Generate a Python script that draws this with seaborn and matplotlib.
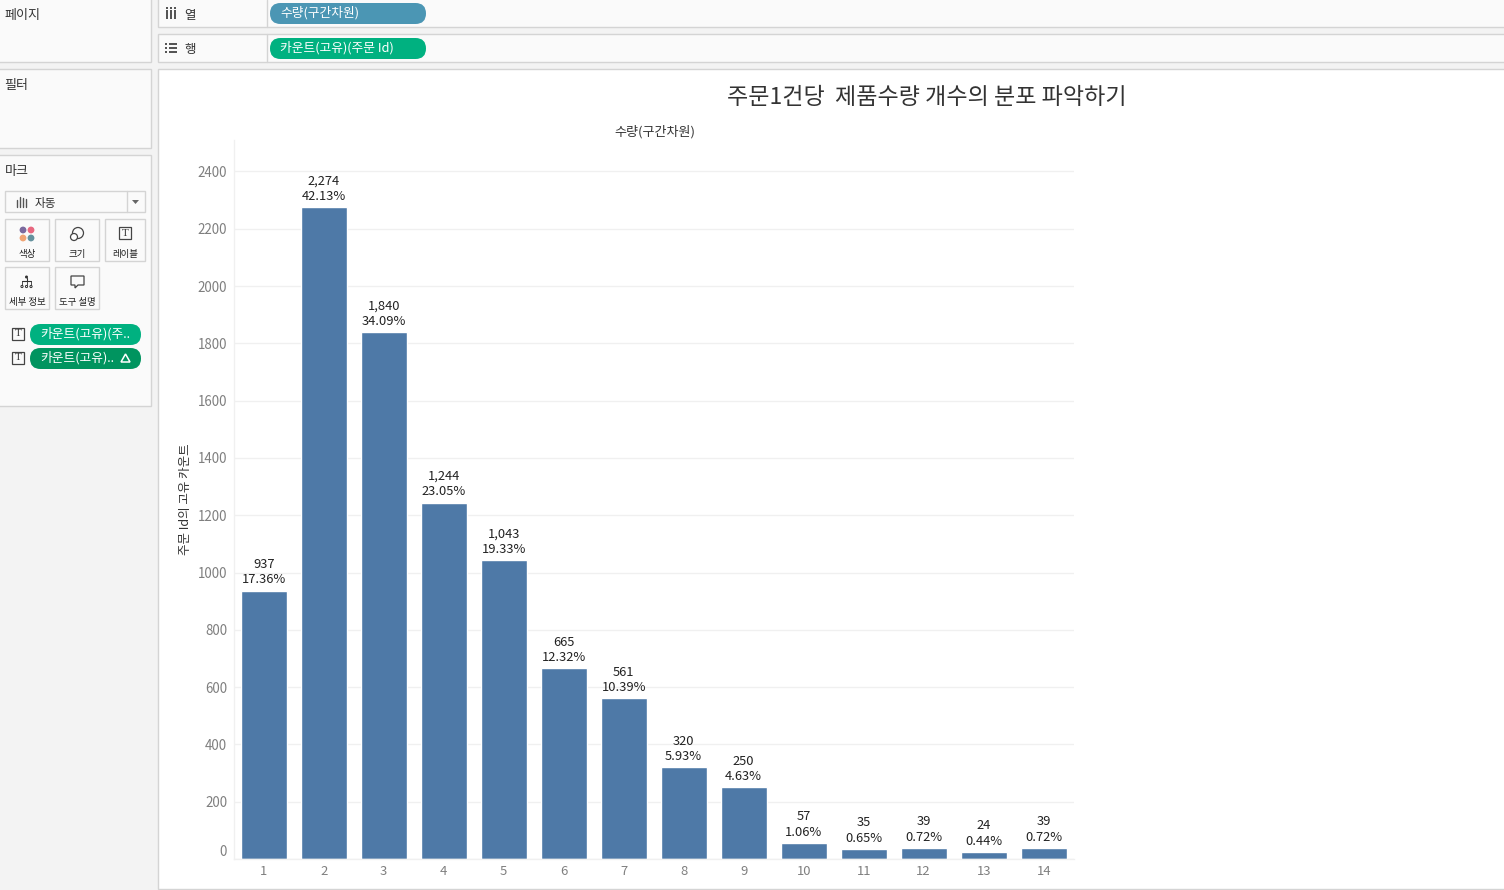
import matplotlib.pyplot as plt
import numpy as np
import pandas as pd
import seaborn as sns
from matplotlib.patches import Circle, FancyBboxPatch, Polygon, Rectangle

# chart data
bins = ['1', '2', '3', '4', '5', '6', '7', '8', '9', '10', '11', '12', '13', '14']
orders = [937, 2274, 1840, 1244, 1043, 665, 561, 320, 250, 57, 35, 39, 24, 39]
shares = ['17.36%', '42.13%', '34.09%', '23.05%', '19.33%', '12.32%', '10.39%',
          '5.93%', '4.63%', '1.06%', '0.65%', '0.72%', '0.44%', '0.72%']
y_ticks = [0, 200, 400, 600, 800, 1000, 1200, 1400, 1600, 1800, 2000, 2200, 2400]

title = '주문1건당  제품수량 개수의 분포 파악하기'
col_pill = '수량(구간차원)'
row_pill = '카운트(고유)(주문 Id)'
y_title = '주문 Id의 고유 카운트'

W, H = 1504, 890
FONT = ['Noto Sans CJK KR', 'DejaVu Sans']

sns.set_theme(style='white')
plt.rcParams['font.family'] = FONT

fig = plt.figure(figsize=(W / 100, H / 100), dpi=100, facecolor='#f3f3f3')

# ---- Tableau window chrome, drawn in pixel coordinates ----
ui = fig.add_axes([0, 0, 1, 1], zorder=0)
ui.set_xlim(0, W)
ui.set_ylim(H, 0)
ui.axis('off')


def panel(x, y, w, h, fc='#fafafa', ec='#d4d4d4'):
    ui.add_patch(Rectangle((x, y), w, h, fc=fc, ec=ec, lw=1))


def pill(x, y, w, h, color, label):
    ui.add_patch(FancyBboxPatch((x, y), w, h,
                                boxstyle=f'round,pad=0,rounding_size={h / 2}',
                                fc=color, ec='none'))
    ui.text(x + 10.5, y + h / 2 - 1, label, color='white', fontsize=9.2, va='center', ha='left')


def button(x, y, w, h, label):
    ui.add_patch(Rectangle((x, y), w, h, fc='#fafafa', ec='#d4d4d4', lw=1))
    ui.text(x + w / 2, y + h - 7, label, fontsize=6.8, color='#222222', ha='center', va='center')


def t_icon(x, y, s=12):
    ui.add_patch(Rectangle((x, y), s, s, fc='none', ec='#444444', lw=0.9))
    ui.text(x + s / 2, y + s / 2, 'T', fontsize=8, color='#333333', ha='center', va='center',
            family='Liberation Serif')


panel(-2, -2, 153, 64)
panel(-2, 69, 153, 79)
panel(-2, 155, 153, 251)
panel(158, -2, 1350, 29)
panel(158, 34, 1350, 28)
ui.plot([267, 267], [0, 27], color='#d4d4d4', lw=1)
ui.plot([267, 267], [34, 62], color='#d4d4d4', lw=1)
panel(158, 69, 1350, 820, fc='white')

for txt, yy in [('페이지', 16), ('필터', 86), ('마크', 172)]:
    ui.text(4.5, yy, txt, fontsize=9.4, color='#333333', va='center')

# shelves
for xx in [166, 170, 174]:
    ui.add_patch(Rectangle((xx, 10), 2, 9, fc='#555555', ec='none'))
    ui.add_patch(Rectangle((xx, 7), 2, 2, fc='#555555', ec='none'))
ui.text(184, 15, '열', fontsize=9, color='#333333', va='center')
for yy in [44, 48, 52]:
    ui.add_patch(Rectangle((165, yy - 1), 2, 2, fc='#555555', ec='none'))
    ui.add_patch(Rectangle((169, yy - 1), 8, 2, fc='#555555', ec='none'))
ui.text(184, 49.5, '행', fontsize=9, color='#333333', va='center')
pill(270, 3, 156, 21, '#4b96b4', col_pill)
pill(270, 38, 156, 21, '#00b180', row_pill)

# marks card
ui.add_patch(Rectangle((5, 191), 140, 21, fc='#fafafa', ec='#d4d4d4', lw=1))
ui.plot([126.5, 126.5], [191, 212], color='#d4d4d4', lw=1)
ui.add_patch(Polygon([[132, 200], [139, 200], [135.5, 204]], fc='#666666', ec='none'))
for xx, top in zip([17, 20, 23, 26], [200, 197, 198, 199]):
    ui.plot([xx, xx], [top, 207], color='#555555', lw=1)
ui.text(35, 203, '자동', fontsize=8.4, color='#333333', va='center')

button(5, 219, 44, 42, '색상')
button(55, 219, 44, 42, '크기')
button(105, 219, 40, 42, '레이블')
button(5, 267, 44, 42, '세부 정보')
button(55, 267, 44, 42, '도구 설명')

for (cx, cy), c in zip([(23, 230), (31, 230), (23, 238), (31, 238)],
                       ['#7b6a9e', '#e8677f', '#f0a474', '#64929e']):
    ui.add_patch(Circle((cx, cy), 3.4, fc=c, ec='none'))
ui.add_patch(Circle((78, 233), 5.5, fc='none', ec='#444444', lw=0.9))
ui.add_patch(Circle((74, 237), 3.5, fc='white', ec='#444444', lw=0.9))
t_icon(119, 227)
ui.add_patch(Circle((26.5, 277), 1.5, fc='#333333', ec='none'))
ui.plot([26.5, 26.5], [278, 281], color='#333333', lw=0.8)
ui.plot([22, 31], [281, 281], color='#333333', lw=0.8)
for xx in [22, 26.5, 31]:
    ui.plot([xx, xx], [281, 285], color='#333333', lw=0.6)
    ui.add_patch(Circle((xx, 286.5), 1.1, fc='none', ec='#333333', lw=0.7))
ui.add_patch(Polygon([[71, 276], [84, 276], [84, 285], [78, 285], [75, 288], [75, 285], [71, 285]],
                     closed=True, fc='none', ec='#444444', lw=0.9))

t_icon(12, 328)
t_icon(12, 352)
pill(30, 324, 111, 21, '#00b180', '카운트(고유)(주..')
pill(30, 348, 111, 21, '#00945f', '카운트(고유)..')
ui.add_patch(Polygon([[121, 362], [130, 362], [125.5, 354]], closed=True, fc='none', ec='white', lw=1.1))

# ---- the chart itself ----
df = pd.DataFrame({'bin': bins, 'orders': orders, 'share': shares})

ax_l, ax_r, ax_t, ax_b = 234, 1074, 140, 859
ax = fig.add_axes([ax_l / W, 1 - ax_b / H, (ax_r - ax_l) / W, (ax_b - ax_t) / H], zorder=1)
ax.patch.set_alpha(0)
sns.barplot(data=df, x='bin', y='orders', color='#4e79a7', saturation=1, width=0.762, ax=ax)
ax.set_xlim(-0.495, 13.505)
ax.set_ylim(0, (ax_b - ax_t) / 0.2865)

ax.set_yticks(y_ticks)
ax.set_yticklabels([str(v) for v in y_ticks], fontsize=9.6, color='#7f7f7f', va='center_baseline')
ax.get_yticklabels()[0].set_va('bottom')
ax.set_xticks(range(len(bins)))
ax.set_xticklabels(bins, fontsize=9.4, color='#7f7f7f')
ax.grid(axis='y', color='#f0f0f0', lw=1)
ax.set_axisbelow(True)
ax.tick_params(axis='x', length=0, pad=4)
ax.tick_params(axis='y', length=0, pad=5)
ax.set_xlabel('')
ax.set_ylabel('')
for side in ['top', 'right']:
    ax.spines[side].set_visible(False)
ax.spines['left'].set_color('#f0f0f0')
ax.spines['bottom'].set_color('#f0f0f0')
ax.spines['left'].set_linewidth(1)
ax.spines['bottom'].set_linewidth(1)

# value + share labels on every bar
for i, row in df.iterrows():
    ax.annotate(f"{row['orders']:,}\n{row['share']}", (i, row['orders']), xytext=(0, 3),
                textcoords='offset points', ha='center', va='bottom',
                fontsize=9.3, color='#222222', linespacing=1.25)

ui.text(927, 97, title, fontsize=16.6, color='#333333', ha='center', va='center', fontweight='medium')
ui.text(654.5, 132, col_pill, fontsize=9.4, color='#333333', ha='center', va='center')
ui.text(185, 499.5, y_title, fontsize=9, color='#333333', ha='center', va='center', rotation=90)

fig.savefig('out.png', dpi=100, facecolor=fig.get_facecolor())
